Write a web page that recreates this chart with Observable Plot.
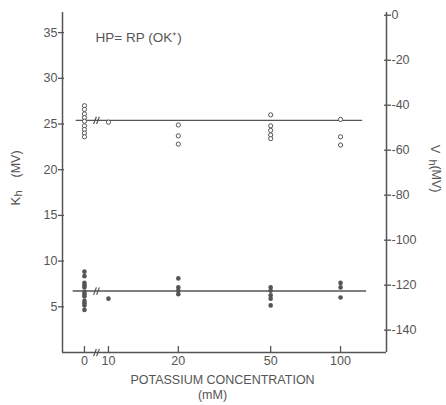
<!DOCTYPE html>
<html><head><meta charset="utf-8">
<script src="https://cdn.jsdelivr.net/npm/d3@7"></script>
<script src="https://cdn.jsdelivr.net/npm/@observablehq/plot@0.6"></script>
<style>
body{margin:0;background:#fff;}
</style></head><body><div id="chart"></div>
<script>
// ---- data ----
const concentrations = [0, 10, 20, 50, 100];           // mM
const xTickLabels = ["0", "10", "20", "50", "100"];
const khValues = [                                      // open circles, K_h (mV), left axis
  [27.0, 26.6, 26.1, 25.7, 25.3, 24.8, 24.4, 24.0, 23.6],
  [25.2],
  [24.9, 23.7, 22.8],
  [26.0, 24.8, 24.3, 23.8, 23.4],
  [25.5, 23.6, 22.7]
];
const vhValues = [                                      // filled circles, V_h (mV), right axis
  [-114, -116, -119, -120, -121, -123, -124, -125, -127, -128, -129, -131],
  [-126],
  [-117, -121, -122.5, -124],
  [-121, -122.5, -124.5, -126, -129],
  [-119, -121, -125.5]
];
const khMean = 25.4;
const vhMean = -122.6;
const khLineExtent = [0.861, 2.095];   // in axis position units (log10 mM, with broken 0)
const vhLineExtent = [0.848, 2.112];
const kTicks = [5, 10, 15, 20, 25, 30, 35];
const vTicks = [0, -20, -40, -60, -80, -100, -120, -140];

// ---- scale helpers ----
const BREAK_POS = 0.8966;                       // where the "0" group sits before the axis break
const pos = c => c === 0 ? BREAK_POS : Math.log10(c);
const vToK = v => 36.9 + 0.2461 * v;            // right-axis (V_h) to left-axis (K_h) units
const kToV = k => (k - 36.9) / 0.2461;
const X_DOMAIN = [0.802, 2.198];
const Y_DOMAIN = [0, 37.2];
const breakPositions = [0.942, 0.955];

const khRows = khValues.flatMap((vals, i) => vals.map(v => ({conc: concentrations[i], kh: v})));
const vhRows = vhValues.flatMap((vals, i) => vals.map(v => ({conc: concentrations[i], vh: v})));
const fitLines = [
  {y: khMean, x1: khLineExtent[0], x2: khLineExtent[1]},
  {y: vToK(vhMean), x1: vhLineExtent[0], x2: vhLineExtent[1]}
];
const breakMarks = [khMean, vToK(vhMean), 0].flatMap(y =>
  breakPositions.map(p => ({x1: p - 0.006, x2: p + 0.006, y1: y - 0.4, y2: y + 0.4})));
const xTickPos = concentrations.map(pos);

const ink = "#555";
const chart = Plot.plot({
  width: 446, height: 405,
  marginLeft: 62, marginRight: 60, marginTop: 12, marginBottom: 53,
  style: {fontFamily: "'Liberation Sans', Arial, sans-serif", fontSize: "12.5px", color: ink, background: "white"},
  x: {type: "linear", domain: X_DOMAIN},
  y: {domain: Y_DOMAIN},
  marks: [
    Plot.ruleX([X_DOMAIN[0], X_DOMAIN[1]], {stroke: ink, strokeWidth: 1.5}),
    Plot.ruleY([0], {stroke: ink, strokeWidth: 1.5}),
    // left axis
    Plot.axisY(kTicks, {anchor: "left", tickSize: 4, tickPadding: 1, label: null, stroke: ink, strokeWidth: 1.3}),
    Plot.axisY(kTicks, {anchor: "left", tickSize: -2, fill: "none", label: null, stroke: ink, strokeWidth: 1.3}),
    // right axis (V_h)
    Plot.axisY(vTicks.map(vToK), {anchor: "right", tickSize: 4, tickPadding: 1, label: null, stroke: ink, strokeWidth: 1.3,
      tickFormat: k => String(Math.round(kToV(k)))}),
    Plot.axisY(vTicks.map(vToK), {anchor: "right", tickSize: -3, fill: "none", label: null, stroke: ink, strokeWidth: 1.3}),
    // x axis
    Plot.axisX(xTickPos, {anchor: "bottom", tickSize: -6, fill: "none", label: null, stroke: ink, strokeWidth: 1.3}),
    Plot.axisX(xTickPos, {anchor: "bottom", tickSize: 0, tickPadding: 4, label: null,
      tickFormat: p => xTickLabels[xTickPos.indexOf(p)]}),
    // fitted lines
    Plot.ruleY(fitLines, {y: "y", x1: "x1", x2: "x2", stroke: ink, strokeWidth: 1.4}),
    Plot.link(breakMarks, {x1: "x1", x2: "x2", y1: "y1", y2: "y2", stroke: ink, strokeWidth: 1.2}),
    // data
    Plot.dot(khRows, {x: d => pos(d.conc), y: "kh", r: 2.1, stroke: ink, strokeWidth: 1, fill: "white"}),
    Plot.dot(vhRows, {x: d => pos(d.conc), y: d => vToK(d.vh), r: 2.3, fill: ink, stroke: "none"}),
    // texts
    Plot.text(["HP= RP (OK⁺)"], {frameAnchor: "top-left", dx: 33, dy: 20, textAnchor: "start", fontSize: 13.5, fill: ink}),
    Plot.text(["K"], {frameAnchor: "left", dx: -47, dy: 23, rotate: -90, fontSize: 13, fill: ink}),
    Plot.text(["h"], {frameAnchor: "left", dx: -44, dy: 14, rotate: -90, fontSize: 11, fill: ink}),
    Plot.text(["(MV)"], {frameAnchor: "left", dx: -47, dy: -5, rotate: -90, fontSize: 12.5, fill: ink}),
    Plot.text(["V"], {frameAnchor: "right", dx: 49, dy: -29, rotate: 90, fontSize: 13, fill: ink}),
    Plot.text(["h"], {frameAnchor: "right", dx: 46, dy: -17, rotate: 90, fontSize: 11, fill: ink}),
    Plot.text(["(MV)"], {frameAnchor: "right", dx: 49, dy: 10, rotate: 90, fontSize: 12.5, fill: ink}),
    Plot.text(["POTASSIUM CONCENTRATION"], {frameAnchor: "bottom", dx: -2, dy: 31, fontSize: 12.5, fill: ink}),
    Plot.text(["(mM)"], {frameAnchor: "bottom", dx: -12, dy: 46, fontSize: 12.5, fill: ink})
  ]
});
document.getElementById("chart").appendChild(chart);
</script></body></html>
